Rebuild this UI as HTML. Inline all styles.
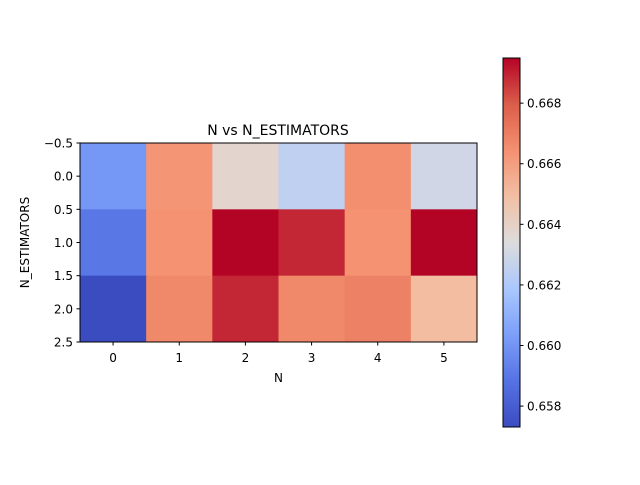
<!DOCTYPE html>
<html><head><meta charset="utf-8"><style>
body{margin:0;background:#fff;}
svg text{font-family:"DejaVu Sans","Liberation Sans",sans-serif;fill:#000;}
</style></head><body>
<svg id="chart" width="640" height="480" xmlns="http://www.w3.org/2000/svg">
<text x="278" y="135" font-size="14" text-anchor="middle">N vs N_ESTIMATORS</text>
<g id="cells"></g>
<rect x="80" y="143" width="397" height="199" fill="none" stroke="#000" stroke-width="1"/>
<g id="xticks"></g><g id="yticks"></g>
<text x="278.5" y="382" font-size="12" text-anchor="middle">N</text>
<text transform="translate(29,242.5) rotate(-90)" font-size="12" text-anchor="middle">N_ESTIMATORS</text>
<defs><linearGradient id="cg" x1="0" y1="1" x2="0" y2="0">
<stop offset="0" stop-color="rgb(59,76,192)"/><stop offset="0.125" stop-color="rgb(85,114,227)"/>
<stop offset="0.25" stop-color="rgb(124,159,249)"/><stop offset="0.375" stop-color="rgb(170,199,253)"/>
<stop offset="0.5" stop-color="rgb(221,220,220)"/><stop offset="0.625" stop-color="rgb(242,191,164)"/>
<stop offset="0.75" stop-color="rgb(244,145,112)"/><stop offset="0.875" stop-color="rgb(219,93,74)"/>
<stop offset="1" stop-color="rgb(180,4,38)"/></linearGradient></defs>
<rect x="503" y="58" width="17" height="369" fill="url(#cg)" stroke="#000" stroke-width="1"/>
<g id="cbticks"></g>
</svg>
<script>
const xCategories=[0,1,2,3,4,5];
const yCategories=[0,1,2];
const row0=[0.6601,0.6663,0.6638,0.6625,0.6665,0.6630];
const row1=[0.6590,0.6664,0.6695,0.6689,0.6664,0.6695];
const row2=[0.6573,0.6667,0.6689,0.6667,0.6669,0.6650];
const yTickLabels=["\u22120.5","0.0","0.5","1.0","1.5","2.0","2.5"];
const cbTicks=[0.658,0.660,0.662,0.664,0.666,0.668];
const vmin=0.65731, vmax=0.66949;
const NS="http://www.w3.org/2000/svg";
const stops=[[59,76,192],[85,114,227],[124,159,249],[170,199,253],[221,220,220],[242,191,164],[244,145,112],[219,93,74],[180,4,38]];
function cmap(v){let t=Math.max(0,Math.min(1,(v-vmin)/(vmax-vmin)))*8;let i=Math.min(7,Math.floor(t)),f=t-i;
const a=stops[i],b=stops[i+1];return `rgb(${a.map((c,k)=>Math.round(c+(b[k]-c)*f)).join(",")})`;}
const X0=80,X1=477,Y0=143,Y1=342;
const xs=x=>X0+(x+0.5)*(X1-X0)/xCategories.length;
const ys=y=>Y0+(y+0.5)*(Y1-Y0)/yCategories.length;
const cw=(X1-X0)/xCategories.length,ch=(Y1-Y0)/yCategories.length;
const cbY=v=>427-(v-vmin)/(vmax-vmin)*369;
function mk(tag,at,parent){const e=document.createElementNS(NS,tag);for(const k in at)e.setAttribute(k,at[k]);document.getElementById(parent).appendChild(e);return e;}
const rows=[row0,row1,row2];
rows.forEach((r,yi)=>r.forEach((v,xi)=>{
 const e=mk("rect",{x:xs(xi)-cw/2,y:ys(yi)-ch/2,width:cw+0.5,height:ch+0.5,fill:cmap(v)},"cells");
 
 
}));
xCategories.forEach((c,i)=>{
 const l=mk("line",{x1:xs(i),x2:xs(i),y1:342,y2:345.5,stroke:"#000"},"xticks");
 
 
 const t=mk("text",{x:xs(i),y:362,"font-size":12,"text-anchor":"middle"},"xticks");t.textContent=c;
 
 
});
yTickLabels.forEach((lab,i)=>{
 const y=Y0+i*(Y1-Y0)/6;
 const l=mk("line",{x1:76.5,x2:80,y1:y,y2:y,stroke:"#000"},"yticks");
 
 
 const t=mk("text",{x:73,y:y+4.5,"font-size":12,"text-anchor":"end"},"yticks");t.textContent=lab;
 
 
});
cbTicks.forEach(v=>{
 const y=cbY(v);
 const l=mk("line",{x1:520,x2:523.5,y1:y,y2:y,stroke:"#000"},"cbticks");
 
 
 const t=mk("text",{x:527,y:y+4.5,"font-size":12},"cbticks");t.textContent=v.toFixed(3);
 
 
});
</script>
</body></html>
